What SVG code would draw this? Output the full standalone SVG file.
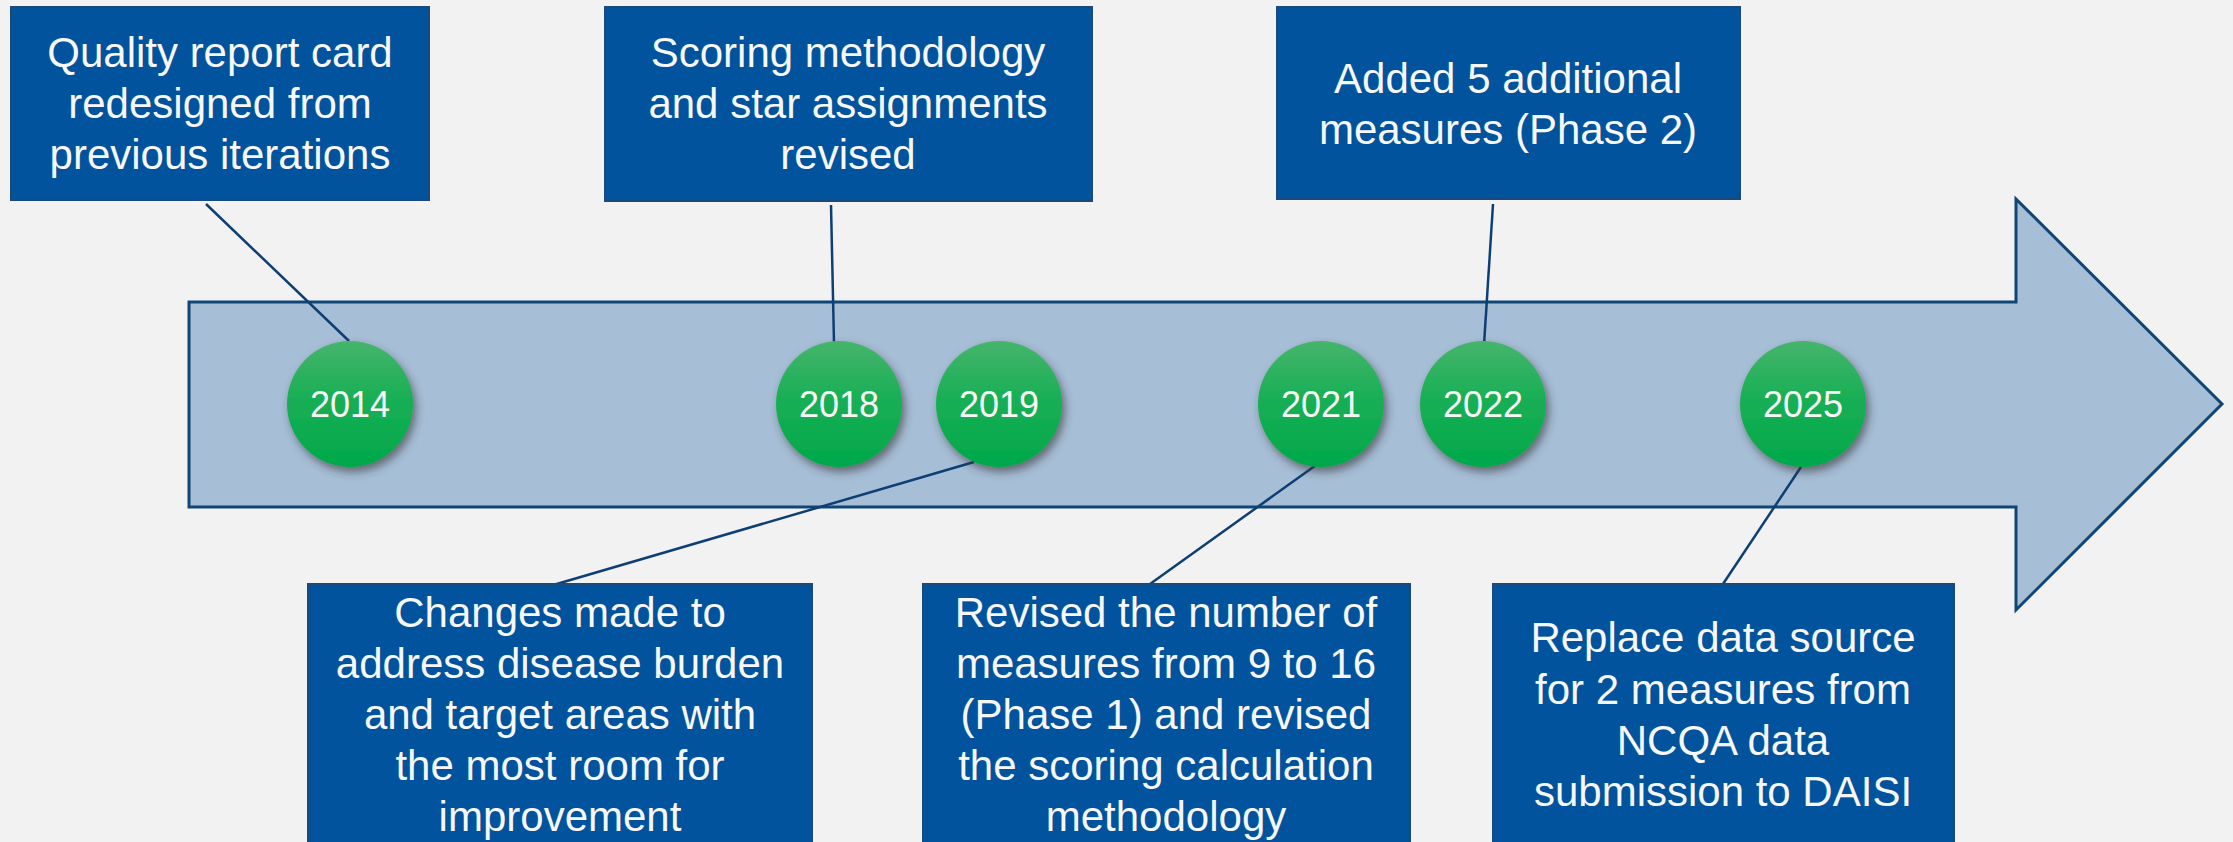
<svg xmlns="http://www.w3.org/2000/svg" width="2233" height="842" viewBox="0 0 2233 842">
<defs>
<linearGradient id="g" x1="0" y1="0" x2="0" y2="1">
<stop offset="0" stop-color="#46B56C"/>
<stop offset="0.45" stop-color="#19AF55"/>
<stop offset="1" stop-color="#00A84A"/>
</linearGradient>
<filter id="sh" x="-30%" y="-30%" width="160%" height="160%">
<feGaussianBlur in="SourceAlpha" stdDeviation="4"/>
<feOffset dx="3" dy="5" result="b"/>
<feFlood flood-color="#333" flood-opacity="0.6"/>
<feComposite in2="b" operator="in"/>
<feMerge><feMergeNode/><feMergeNode in="SourceGraphic"/></feMerge>
</filter>
<style>
.box{fill:#00539C;stroke:#1B4A7A;stroke-width:2}
.bt{font-family:"Liberation Sans",Arial,sans-serif;font-size:42px;fill:#F7F7F7;text-anchor:middle}
.yr{font-family:"Liberation Sans",Arial,sans-serif;font-size:36px;fill:#F7F7F7;text-anchor:middle}
.c{fill:url(#g);filter:url(#sh)}
.ln{stroke:#0E3F74;stroke-width:2.5;fill:none}
</style>
</defs>
<rect width="2233" height="842" fill="#F2F2F2"/>
<g id="arrow">
<polygon points="189,302 2016,302 2016,199 2222,404 2016,610 2016,507 189,507" fill="#A6BED6" stroke="#0F4577" stroke-width="3"/>
</g>
<g id="connectors">
<line class="ln" x1="206" y1="204" x2="349" y2="341"/>
<line class="ln" x1="831" y1="205" x2="834" y2="343"/>
<line class="ln" x1="1493" y1="204" x2="1484" y2="345"/>
<line class="ln" x1="974" y1="462" x2="543" y2="588"/>
<line class="ln" x1="1319" y1="463" x2="1150" y2="584"/>
<line class="ln" x1="1801" y1="467" x2="1723" y2="584"/>
</g>
<g id="y2014"><circle class="c" cx="350" cy="404" r="63"/><text class="yr" x="350" y="417">2014</text></g>
<g id="y2018"><circle class="c" cx="839" cy="404" r="63"/><text class="yr" x="839" y="417">2018</text></g>
<g id="y2019"><circle class="c" cx="999" cy="404" r="63"/><text class="yr" x="999" y="417">2019</text></g>
<g id="y2021"><circle class="c" cx="1321" cy="404" r="63"/><text class="yr" x="1321" y="417">2021</text></g>
<g id="y2022"><circle class="c" cx="1483" cy="404" r="63"/><text class="yr" x="1483" y="417">2022</text></g>
<g id="y2025"><circle class="c" cx="1803" cy="404" r="63"/><text class="yr" x="1803" y="417">2025</text></g>
<g id="box1"><rect class="box" x="11" y="7" width="418" height="193"/>
<text class="bt" x="220" y="67">Quality report card</text>
<text class="bt" x="220" y="118">redesigned from</text>
<text class="bt" x="220" y="169">previous iterations</text></g>
<g id="box2"><rect class="box" x="605" y="7" width="487" height="194"/>
<text class="bt" x="848" y="67">Scoring methodology</text>
<text class="bt" x="848" y="118">and star assignments</text>
<text class="bt" x="848" y="169">revised</text></g>
<g id="box3"><rect class="box" x="1277" y="7" width="463" height="192"/>
<text class="bt" x="1508" y="93">Added 5 additional</text>
<text class="bt" x="1508" y="144">measures (Phase 2)</text></g>
<g id="box4"><rect class="box" x="308" y="584" width="504" height="280"/>
<text class="bt" x="560" y="627">Changes made to</text>
<text class="bt" x="560" y="678">address disease burden</text>
<text class="bt" x="560" y="729">and target areas with</text>
<text class="bt" x="560" y="780">the most room for</text>
<text class="bt" x="560" y="831">improvement</text></g>
<g id="box5"><rect class="box" x="923" y="584" width="487" height="280"/>
<text class="bt" x="1166" y="627">Revised the number of</text>
<text class="bt" x="1166" y="678">measures from 9 to 16</text>
<text class="bt" x="1166" y="729">(Phase 1) and revised</text>
<text class="bt" x="1166" y="780">the scoring calculation</text>
<text class="bt" x="1166" y="831">methodology</text></g>
<g id="box6"><rect class="box" x="1493" y="584" width="461" height="280"/>
<text class="bt" x="1723" y="652">Replace data source</text>
<text class="bt" x="1723" y="704">for 2 measures from</text>
<text class="bt" x="1723" y="755">NCQA data</text>
<text class="bt" x="1723" y="806">submission to DAISI</text></g>
</svg>
